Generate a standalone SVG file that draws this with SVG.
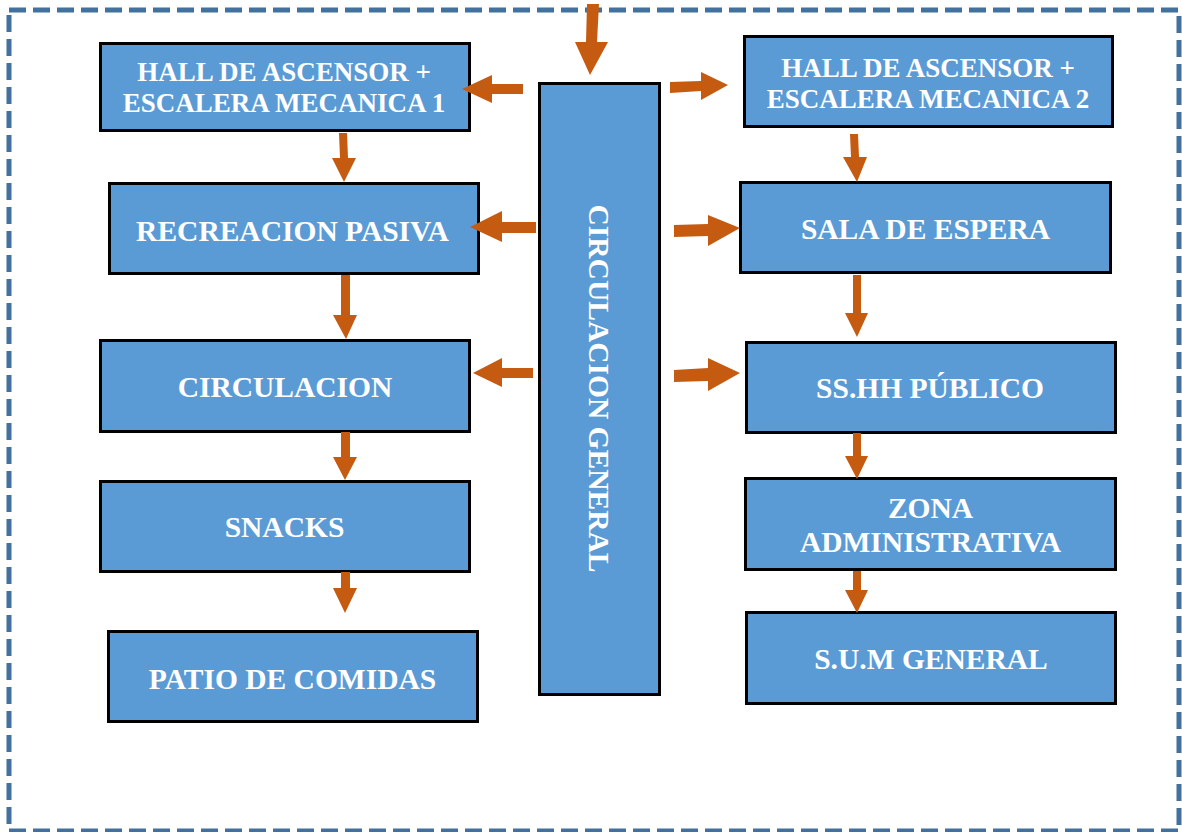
<svg xmlns="http://www.w3.org/2000/svg" width="1182" height="832" viewBox="0 0 1182 832">
  <style>
    .frame { fill: none; stroke: #41719C; stroke-width: 5; stroke-dasharray: 17 7; }
    .box { fill: #5B9BD5; stroke: #000000; stroke-width: 3; }
    .lbl { font-family: "Liberation Serif", "Times New Roman", serif; font-weight: bold; fill: #FFFFFF; text-anchor: middle; }
    .l26 { font-size: 27px; }
    .l28 { font-size: 29.5px; }
    .arrow { fill: #C55A11; }
  </style>

  <rect width="1182" height="832" fill="#FFFFFF"/>

  <!-- dashed boundary -->
  <rect class="frame" x="9" y="10" width="1170" height="821"/>

  <!-- left column -->
  <g id="hall1">
    <rect class="box" x="100.5" y="43.5" width="369" height="87"/>
    <text class="lbl l26" x="284" y="81">HALL DE ASCENSOR +</text>
    <text class="lbl l26" x="284" y="112">ESCALERA MECANICA 1</text>
  </g>
  <g id="recreacion">
    <rect class="box" x="109.5" y="183.5" width="369" height="90"/>
    <text class="lbl l28" x="292.5" y="241">RECREACION PASIVA</text>
  </g>
  <g id="circulacion">
    <rect class="box" x="100.5" y="340.5" width="369" height="91"/>
    <text class="lbl l28" x="285" y="397">CIRCULACION</text>
  </g>
  <g id="snacks">
    <rect class="box" x="100.5" y="481.5" width="369" height="90"/>
    <text class="lbl l28" x="284.5" y="537">SNACKS</text>
  </g>
  <g id="patio">
    <rect class="box" x="108.5" y="631.5" width="369" height="90"/>
    <text class="lbl l28" x="292.5" y="689">PATIO DE COMIDAS</text>
  </g>

  <!-- central spine -->
  <g id="circulacion-general">
    <rect class="box" x="539.5" y="83.5" width="120" height="611"/>
    <text class="lbl l28" transform="translate(589 388.5) rotate(90)" x="0" y="0">CIRCULACION GENERAL</text>
  </g>

  <!-- right column -->
  <g id="hall2">
    <rect class="box" x="744.5" y="36.5" width="368" height="90"/>
    <text class="lbl l26" x="928" y="77">HALL DE ASCENSOR +</text>
    <text class="lbl l26" x="928" y="108">ESCALERA MECANICA 2</text>
  </g>
  <g id="sala">
    <rect class="box" x="740.5" y="182.5" width="370" height="90"/>
    <text class="lbl l28" x="925.5" y="239">SALA DE ESPERA</text>
  </g>
  <g id="sshh">
    <rect class="box" x="746.5" y="342.5" width="369" height="90"/>
    <text class="lbl l28" x="930" y="398">SS.HH PÚBLICO</text>
  </g>
  <g id="zona">
    <rect class="box" x="745.5" y="478.5" width="370" height="91"/>
    <text class="lbl l28" x="930.5" y="518">ZONA</text>
    <text class="lbl l28" x="930.5" y="552">ADMINISTRATIVA</text>
  </g>
  <g id="sum">
    <rect class="box" x="746.5" y="612.5" width="369" height="91"/>
    <text class="lbl l28" x="931" y="669">S.U.M GENERAL</text>
  </g>

  <!-- flow arrows -->
  <g id="connectors">
    <!-- entry into the spine -->
    <polygon class="arrow" points="587,4 599,4 597,42 608,42 590,75 575,42 586,42"/>

    <!-- spine to the left column -->
    <polygon class="arrow" points="523,84 523,94 492,94 492,103 462,89 492,75 492,84"/>
    <polygon class="arrow" points="536,222 536,233 502,233 502,242 470,227 502,211 502,222"/>
    <polygon class="arrow" points="533,368 533,378 502,378 502,387 473,373 502,358 502,368"/>

    <!-- spine to the right column -->
    <polygon class="arrow" points="670,82 670,93 701,91 701,100 728,85 701,72 701,81"/>
    <polygon class="arrow" points="674,225 674,237 708,236 708,246 740,228 708,215 708,224"/>
    <polygon class="arrow" points="674,370 674,382 708,381 708,391 740,373 708,358 708,368"/>

    <!-- left column chain -->
    <polygon class="arrow" points="339,133 347,133 348,158 356,158 344,182 332,158 340,158"/>
    <polygon class="arrow" points="341,275 350,275 350,315 357,315 346,339 333,315 341,315"/>
    <polygon class="arrow" points="341,432 350,432 350,457 357,457 345,480 333,457 341,457"/>
    <polygon class="arrow" points="341,572 350,572 350,588 357,588 345,613 333,588 341,588"/>

    <!-- right column chain -->
    <polygon class="arrow" points="850,134 858,134 859,157 867,157 857,182 843,157 851,157"/>
    <polygon class="arrow" points="853,275 861,275 861,313 868,313 857,337 845,313 853,313"/>
    <polygon class="arrow" points="853,433 861,433 861,456 868,456 857,479 845,456 853,456"/>
    <polygon class="arrow" points="853,571 861,571 861,590 868,590 857,613 845,590 853,590"/>
  </g>
</svg>
